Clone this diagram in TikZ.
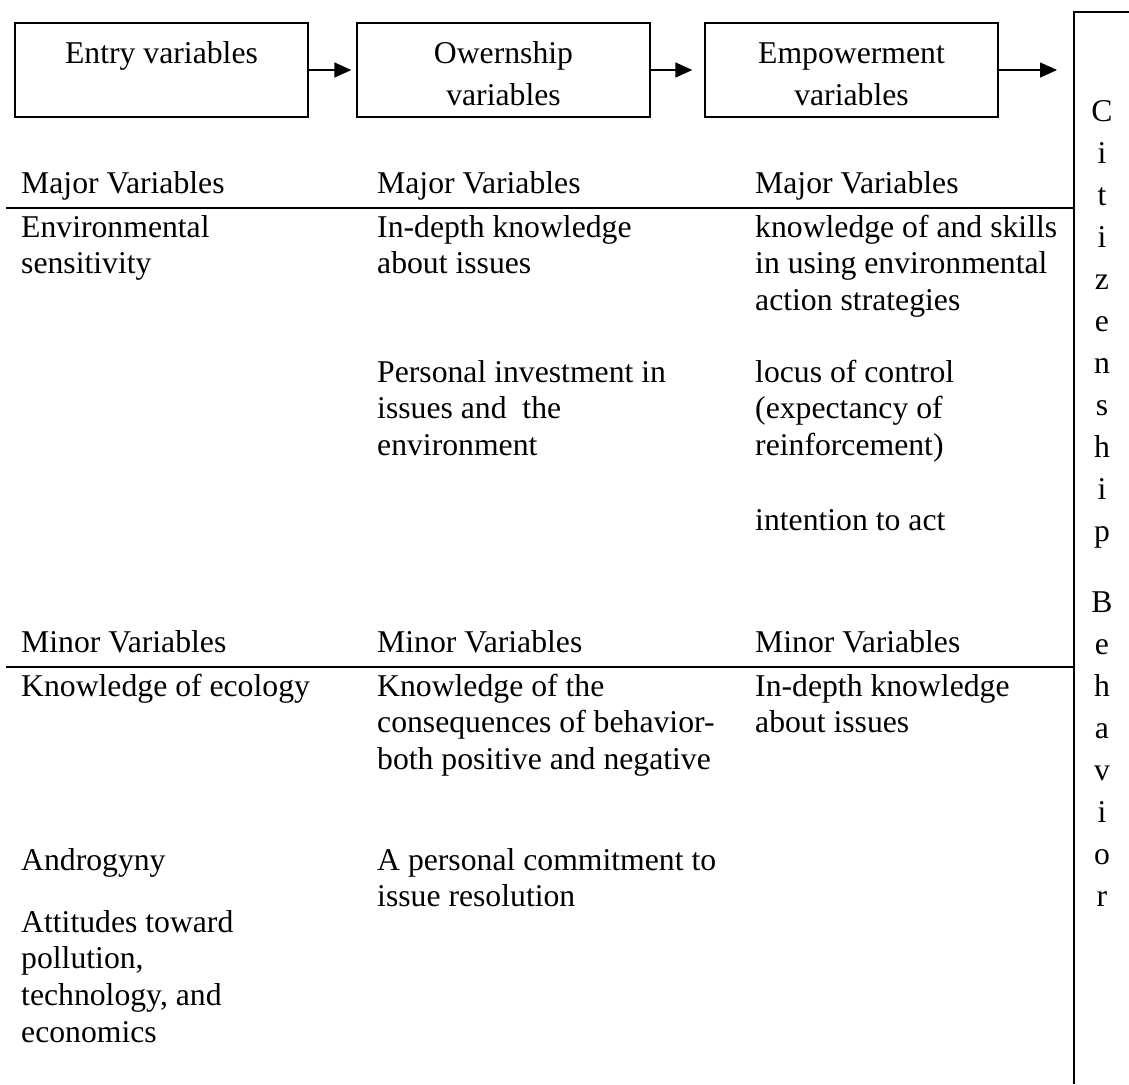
\documentclass[tikz,border=0pt]{standalone}
\usepackage{fontspec}
\setmainfont{Liberation Serif}
\usetikzlibrary{arrows.meta}

% stacked lines whose baseline is the first line
\newcommand{\leftlines}[1]{\begin{tabular}[t]{@{}l@{}}#1\end{tabular}}
\newcommand{\midlines}[1]{\begin{tabular}[t]{@{}c@{}}#1\end{tabular}}

\begin{document}
\begin{tikzpicture}[x=1pt,y=-1pt,
  body/.style={anchor=base west, inner sep=0pt, font=\fontsize{31.7}{36.75}\selectfont},
  boxtext/.style={anchor=base, inner sep=0pt, font=\fontsize{31.7}{42}\selectfont},
  stage/.style={draw, line width=1.3pt, minimum width=293pt, minimum height=94pt, inner sep=0pt},
  flow/.style={line width=1.4pt, -{Triangle[length=17pt,width=15pt]}},
  rule/.style={line width=2pt},
  frame/.style={line width=1.7pt}]
\useasboundingbox (0,0) rectangle (1129,1084);

% stage boxes
\node[stage] (entry) at (161.5,70) {};
\node[stage] (owner) at (503.5,70) {};
\node[stage] (empow) at (851.5,70) {};
\node[boxtext] (entryT) at (161.5,63) {Entry variables};
\node[boxtext] (ownerT) at (503.5,63) {\midlines{Owernship\\variables}};
\node[boxtext] (empowT) at (851.5,63) {\midlines{Empowerment\\variables}};

% right-hand column box (open to the right and bottom)
\coordinate (cbTop) at (1129,12);
\coordinate (cbCorner) at (1074,12);
\coordinate (cbBottom) at (1074,1084);
\draw[frame] (cbTop) -- (cbCorner) -- (cbBottom);
\coordinate (cbIn) at (1074,70);

\draw[flow, shorten >=5pt] (entry.east) -- (owner.west);
\draw[flow, shorten >=12pt] (owner.east) -- (empow.west);
\draw[flow, shorten >=17pt] (empow.east) -- (cbIn);

% vertical label
\node[anchor=base, inner sep=0pt, font=\fontsize{31.7}{42}\selectfont] (citizen) at (1102,121)
  {\midlines{C\\i\\t\\i\\z\\e\\n\\s\\h\\i\\p\\[29pt]B\\e\\h\\a\\v\\i\\o\\r}};

% major variables
\node[body] (maj1) at (21,193) {Major Variables};
\node[body] (maj2) at (377,193) {Major Variables};
\node[body] (maj3) at (755,193) {Major Variables};
\coordinate (ruleAL) at (6,208);
\coordinate (ruleAR) at (1074,208);
\draw[rule] (ruleAL) -- (ruleAR);

\node[body] (envsens) at (21,237) {\leftlines{Environmental\\sensitivity}};
\node[body] (indepth) at (377,237) {\leftlines{In-depth knowledge\\about issues}};
\node[body] (persinv) at (377,382) {\leftlines{Personal investment in\\issues and\ \ the\\environment}};
\node[body] (skills) at (755,237) {\leftlines{knowledge of and skills\\in using environmental\\action strategies}};
\node[body] (locus) at (755,382) {\leftlines{locus of control\\(expectancy of\\reinforcement)}};
\node[body] (intent) at (755,530) {intention to act};

% minor variables
\node[body] (min1) at (21,652) {Minor Variables};
\node[body] (min2) at (377,652) {Minor Variables};
\node[body] (min3) at (755,652) {Minor Variables};
\coordinate (ruleBL) at (6,667);
\coordinate (ruleBR) at (1074,667);
\draw[rule] (ruleBL) -- (ruleBR);

\node[body] (ecology) at (21,696) {Knowledge of ecology};
\node[body] (androg) at (21,870) {Androgyny};
\node[body] (attit) at (21,932) {\leftlines{Attitudes toward\\pollution,\\technology, and\\economics}};
\node[body] (conseq) at (377,696) {\leftlines{Knowledge of the\\consequences of behavior-\\both positive and negative}};
\node[body] (commit) at (377,870) {\leftlines{A personal commitment to\\issue resolution}};
\node[body] (indepth2) at (755,696) {\leftlines{In-depth knowledge\\about issues}};
\end{tikzpicture}
\end{document}
